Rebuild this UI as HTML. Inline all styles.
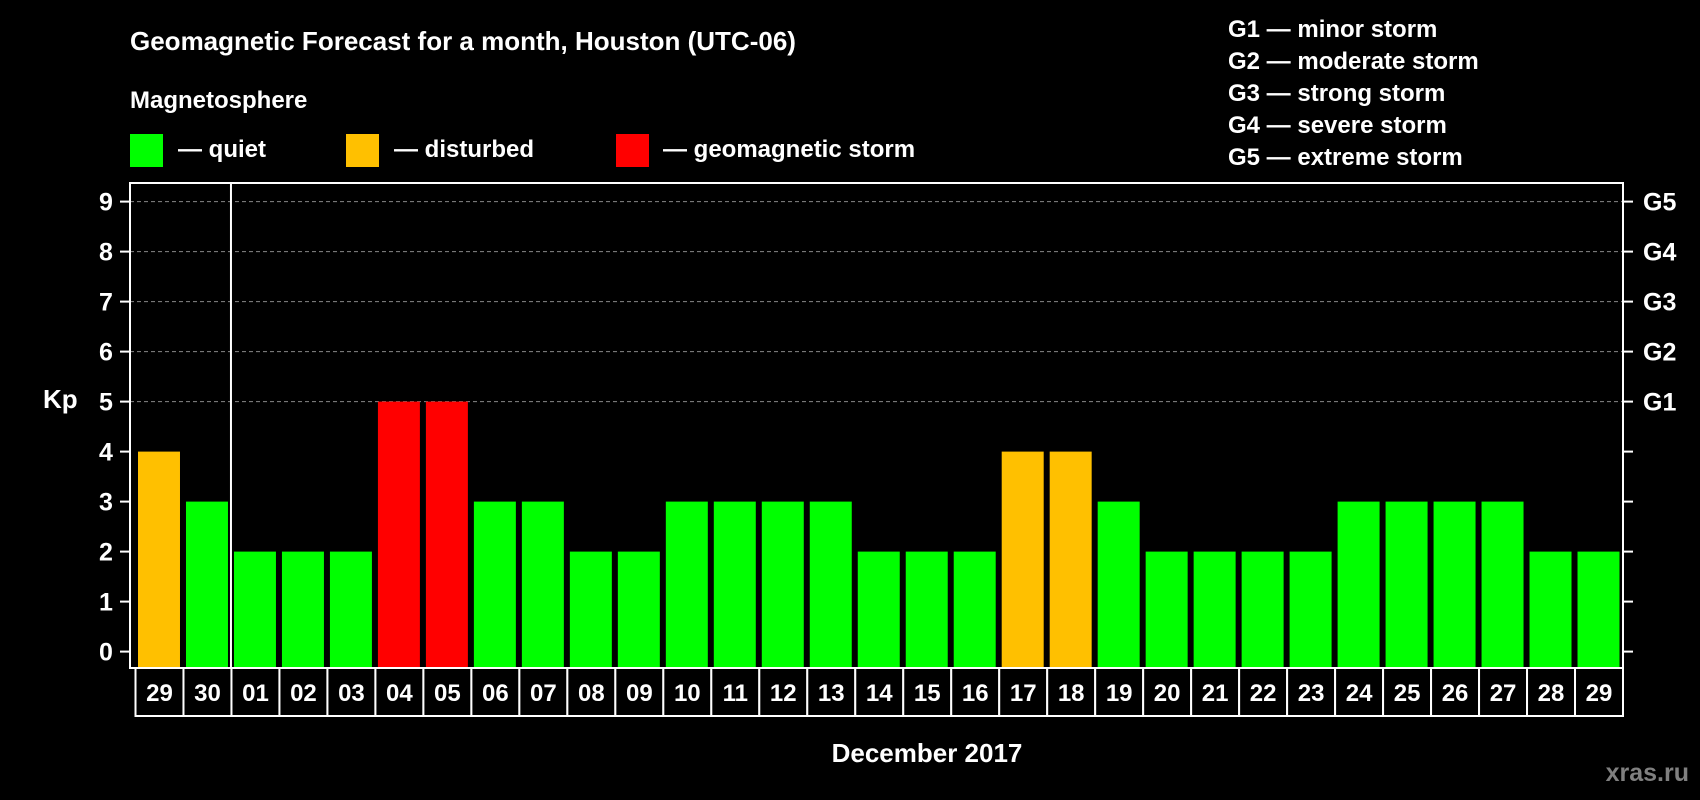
<!DOCTYPE html>
<html><head><meta charset="utf-8"><style>
html,body{margin:0;padding:0;background:#000;}
svg{display:block;font-family:"Liberation Sans",Arial,sans-serif;font-weight:bold;}
</style></head><body>
<svg id="chart" width="1700" height="800" viewBox="0 0 1700 800">
<rect x="0" y="0" width="1700" height="800" fill="#000"/>
<text x="130" y="50" fill="#fff" font-size="26">Geomagnetic Forecast for a month, Houston (UTC-06)</text>
<text x="130" y="108" fill="#fff" font-size="24">Magnetosphere</text>
<g>
<rect x="130" y="134" width="33" height="33" fill="#00ff00"/>
<text x="178" y="157" fill="#fff" font-size="24">— quiet</text></g>
<g>
<rect x="346" y="134" width="33" height="33" fill="#ffc000"/>
<text x="394" y="157" fill="#fff" font-size="24">— disturbed</text></g>
<g>
<rect x="616" y="134" width="33" height="33" fill="#ff0000"/>
<text x="663" y="157" fill="#fff" font-size="24">— geomagnetic storm</text></g>
<g fill="#fff" font-size="24">
<text x="1228" y="37">G1 — minor storm</text>
<text x="1228" y="69">G2 — moderate storm</text>
<text x="1228" y="101">G3 — strong storm</text>
<text x="1228" y="133">G4 — severe storm</text>
<text x="1228" y="165">G5 — extreme storm</text>
</g>
<g id="grid"></g>
<g id="bars"></g>
<g id="axes"></g>
<text x="43" y="408" fill="#fff" font-size="26">Kp</text>
<text x="927" y="762" fill="#fff" font-size="26" text-anchor="middle">December 2017</text>
<text x="1689" y="781" fill="#808080" font-size="25" text-anchor="end">xras.ru</text>
</svg>
<script>
const days = ["29","30","01","02","03","04","05","06","07","08","09","10","11","12","13","14","15","16","17","18","19","20","21","22","23","24","25","26","27","28","29"];
const kpValues = [4,3,2,2,2,5,5,3,3,2,2,3,3,3,3,2,2,2,4,4,3,2,2,2,2,3,3,3,3,2,2];
const yTicks = [0,1,2,3,4,5,6,7,8,9];
const gLabels = ["G1","G2","G3","G4","G5"];
const NS="http://www.w3.org/2000/svg";
const L=130,R=1623,T=183,B=668,LB=716;
const slot=(R-135.5)/days.length;
function y(v){return 651.6-v*50;}
function xs(i){return 135.5+i*slot;}
function mk(tag,attrs,parent){const e=document.createElementNS(NS,tag);for(const k in attrs)e.setAttribute(k,attrs[k]);parent.appendChild(e);return e;}
const grid=document.getElementById('grid'),bars=document.getElementById('bars'),axes=document.getElementById('axes');
yTicks.forEach(v=>{
  if(v>=5){const g=mk('line',{x1:L,x2:R,y1:y(v),y2:y(v),stroke:'#888','stroke-dasharray':'4,3','stroke-width':1},grid);
  
  }
  const t=mk('line',{x1:L-10,x2:L,y1:y(v),y2:y(v),stroke:'#fff','stroke-width':2},axes);
  
  
  const t2=mk('line',{x1:R,x2:R+10,y1:y(v),y2:y(v),stroke:'#fff','stroke-width':2},axes);
  
  
  const lb=mk('text',{x:106,y:y(v)+9,fill:'#fff','font-size':25,'text-anchor':'middle'},axes);
  lb.textContent=v;
  
  
});
gLabels.forEach((g,i)=>{
  const t=mk('text',{x:1643,y:y(5+i)+9,fill:'#fff','font-size':25},axes);
  t.textContent=g;
  
  
});
kpValues.forEach((v,i)=>{
  const c=v>=5?'#ff0000':(v>=4?'#ffc000':'#00ff00');
  const r=mk('rect',{x:xs(i)+2.5,y:y(v),width:slot-6,height:B-y(v),fill:c},bars);
  
  
});
const frame=mk('rect',{x:L,y:T,width:R-L,height:B-T,fill:'none',stroke:'#fff','stroke-width':2},axes);


const sep=mk('line',{x1:xs(2)-0.5,x2:xs(2)-0.5,y1:T,y2:B,stroke:'#fff','stroke-width':2},axes);


days.forEach((d,i)=>{
  const c=mk('rect',{x:xs(i),y:B,width:slot,height:LB-B,fill:'#000',stroke:'#fff','stroke-width':2},axes);
  
  
  const t=mk('text',{x:xs(i)+slot/2,y:B+33,fill:'#fff','font-size':24,'text-anchor':'middle'},axes);
  t.textContent=d;
  
  
});
</script>
</body></html>
